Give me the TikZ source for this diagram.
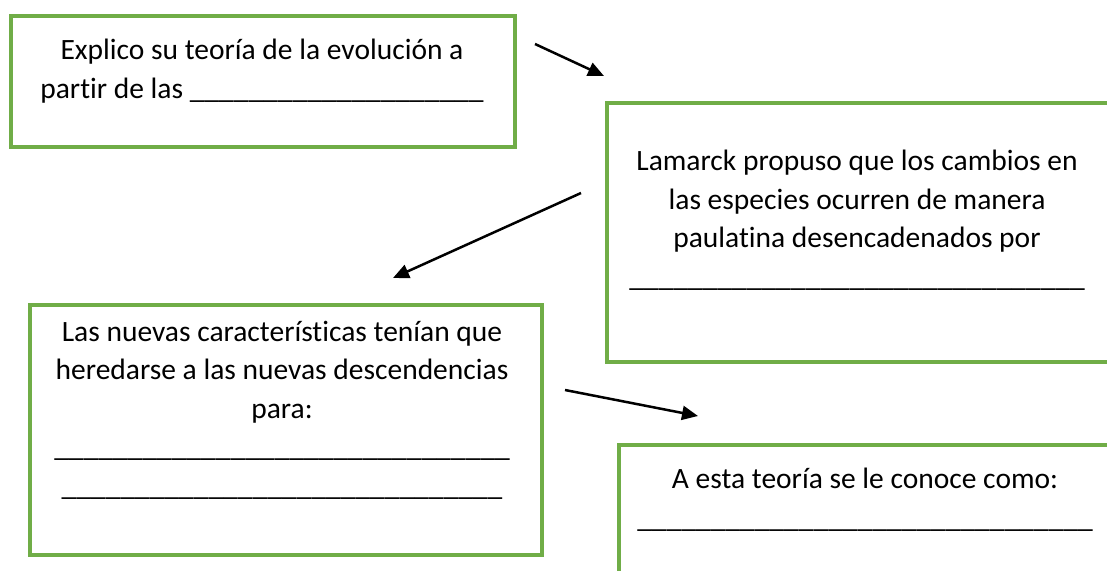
\documentclass[tikz,border=0pt]{standalone}
\usepackage{fontspec}
\setmainfont[Ligatures=NoCommon]{Carlito}
\usetikzlibrary{arrows.meta}
\definecolor{verde}{HTML}{70AD47}
\tikzset{
  caja/.style={draw=verde,line width=4pt,inner sep=0pt,anchor=north west},
  texto/.style={align=center,font=\fontsize{29.5}{38.5}\selectfont,inner sep=0pt,anchor=base},
  flecha/.style={->,line width=2.5pt}
}
\newcommand{\rayas}[1]{\foreach \i in {1,...,#1}{\_}}

\begin{document}
\begin{tikzpicture}[line cap=butt,line join=miter,>={Triangle[length=16pt,width=14pt]},x=1pt,y=-1pt]
\clip (0,0) rectangle (1107,570);
\node[caja,minimum width=504pt,minimum height=131pt] (caja1) at (9,14) {};
\node[caja,minimum width=560pt,minimum height=259pt] (caja2) at (605,101) {};
\node[caja,minimum width=512pt,minimum height=250pt] (caja3) at (28,303) {};
\node[caja,minimum width=560pt,minimum height=200pt] (caja4) at (617,443) {};
% texto de cada caja (ancla en la ultima linea)
\node[texto] (txt1) at (262,98) {Explico su teoría de la evolución a\\partir de las \rayas{20}};
\node[texto] (txt2) at (857,286) {Lamarck propuso que los cambios en\\las especies ocurren de manera\\paulatina desencadenados por\\\rayas{31}};
\node[texto] (txt3) at (282,495) {Las nuevas características tenían que\\heredarse a las nuevas descendencias\\para:\\\rayas{31}\\\rayas{30}};
\node[texto] (txt4) at (865,527) {A esta teoría se le conoce como:\\\rayas{31}};
% flechas
\coordinate (a1) at (535,44);
\coordinate (b1) at (604,76);
\coordinate (a2) at (581,193);
\coordinate (b2) at (393,278);
\coordinate (a3) at (565,390);
\coordinate (b3) at (698,416);
\draw[flecha] (a1) -- (b1);
\draw[flecha] (a2) -- (b2);
\draw[flecha] (a3) -- (b3);
\end{tikzpicture}
\end{document}
